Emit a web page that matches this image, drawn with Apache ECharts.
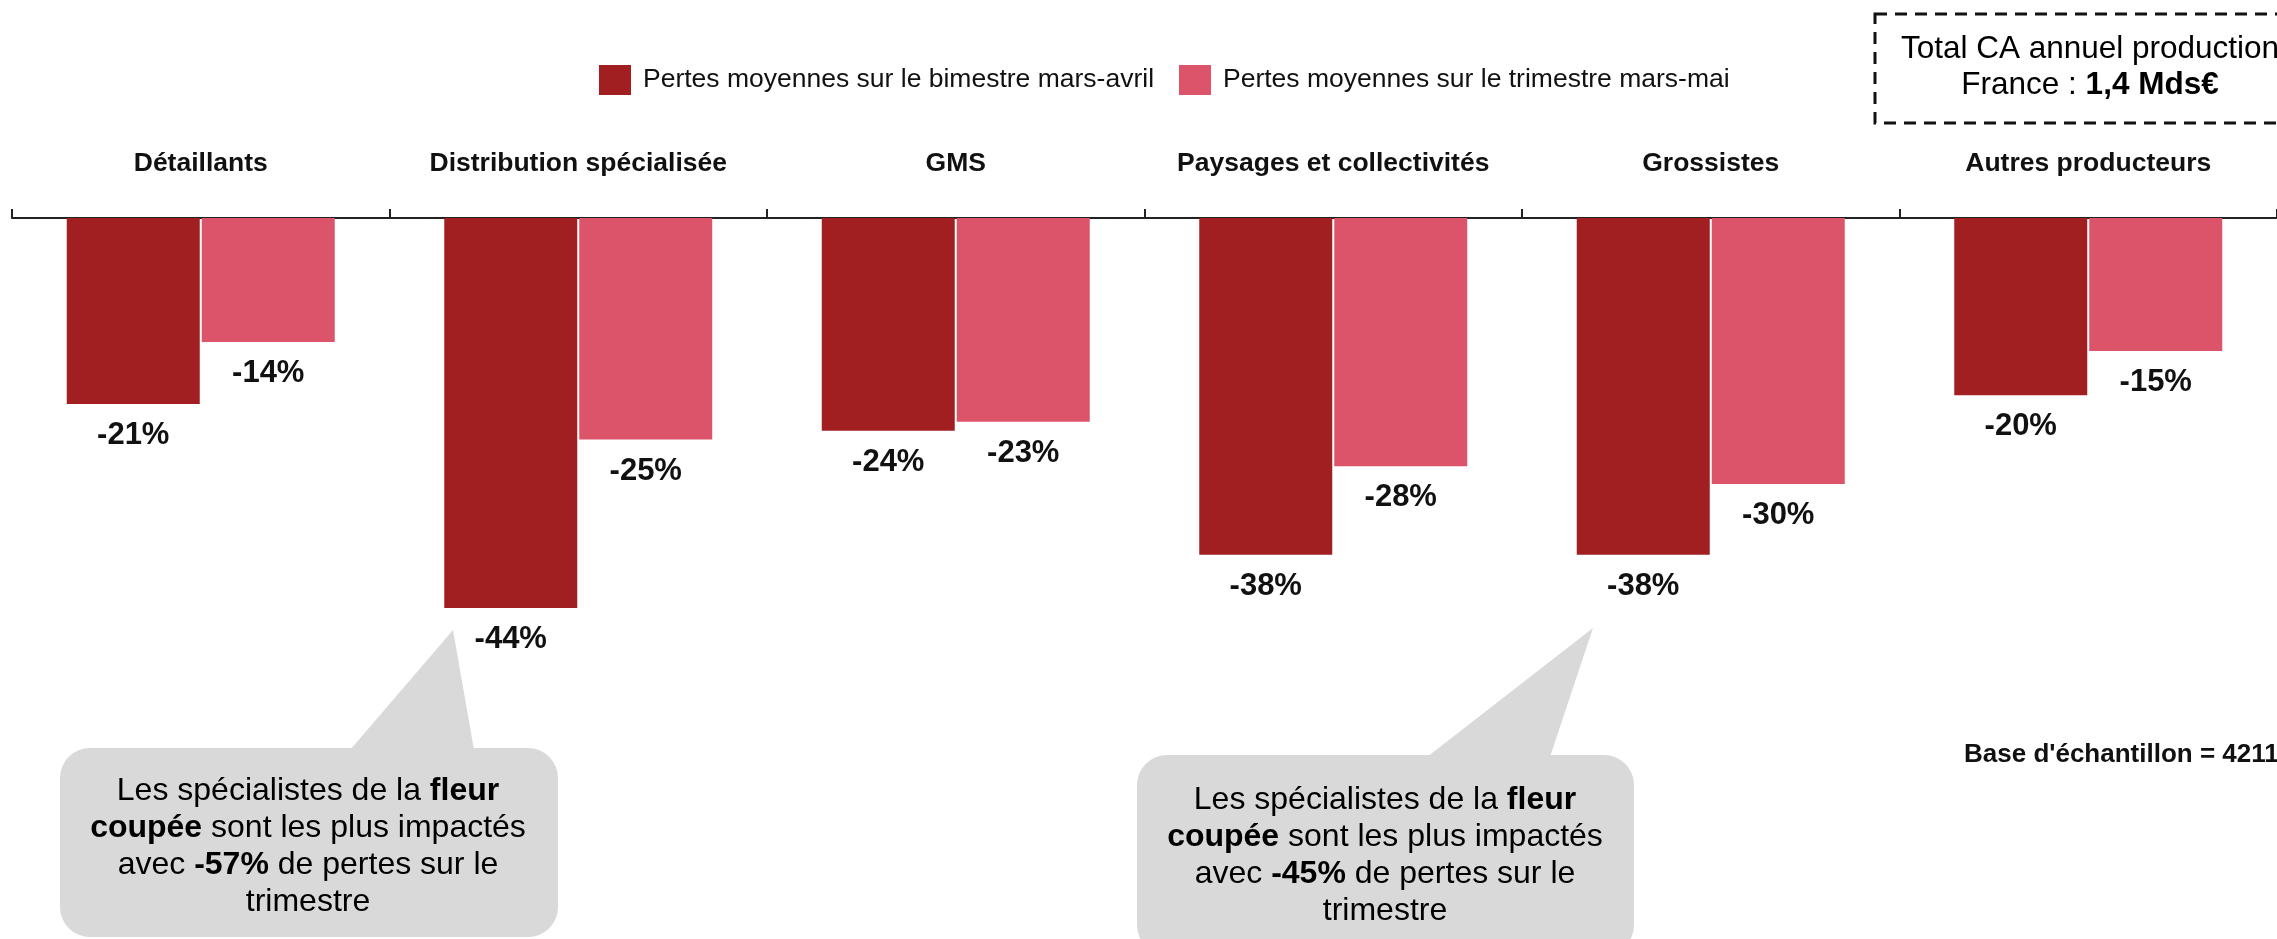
<!DOCTYPE html>
<html>
<head>
<meta charset="utf-8">
<script src="https://cdn.jsdelivr.net/npm/echarts@6/dist/echarts.min.js"></script>
<style>
  html, body { margin: 0; padding: 0; background: #fff; }
  #chart { width: 2277px; height: 939px; }
</style>
</head>
<body>
<div id="chart"></div>
<script>
  // données
  const categories = ['Détaillants', 'Distribution spécialisée', 'GMS', 'Paysages et collectivités', 'Grossistes', 'Autres producteurs'];
  const seriesNames = ['Pertes moyennes sur le bimestre mars-avril', 'Pertes moyennes sur le trimestre mars-mai'];
  const bimestre = [-21, -44, -24, -38, -38, -20];
  const trimestre = [-14, -25, -23, -28, -30, -15];

  const FONT = "'Liberation Sans', Arial, sans-serif";
  const colors = ['#A11F21', '#DC5469'];

  const chart = echarts.init(document.getElementById('chart'));

  // texte enrichi des bulles
  const bubbleRich = {
    n: { fontSize: 32, fontFamily: FONT, color: '#111', lineHeight: 37, align: 'center' },
    b: { fontSize: 32, fontFamily: FONT, color: '#111', fontWeight: 'bold', lineHeight: 37, align: 'center' }
  };
  function bubbleText(pct) {
    return [
      '{n|Les spécialistes de la }{b|fleur}',
      '{b|coupée}{n| sont les plus impactés}',
      '{n|avec }{b|' + pct + '}{n| de pertes sur le}',
      '{n|trimestre}'
    ].join('\n');
  }

  function barLabel() {
    return {
      show: true,
      position: 'bottom',
      distance: 16,
      formatter: '{c}%',
      fontFamily: FONT,
      fontWeight: 'bold',
      fontSize: 31,
      color: '#111'
    };
  }

  const option = {
    animation: false,
    color: colors,
    legend: {
      top: 60,
      left: 594,
      itemWidth: 32,
      itemHeight: 30,
      itemGap: 25,
      icon: 'rect',
      textStyle: { fontFamily: FONT, fontSize: 26.5, color: '#111', padding: [0, 0, 0, 7] },
      data: seriesNames
    },
    grid: { left: 12, right: -4, top: 218, bottom: 12, containLabel: false },
    xAxis: {
      type: 'category',
      position: 'top',
      data: categories,
      axisLine: { lineStyle: { color: '#222', width: 2 } },
      axisTick: { show: true, length: 9, lineStyle: { color: '#222', width: 2 } },
      axisLabel: {
        interval: 0,
        margin: 41,
        fontFamily: FONT,
        fontWeight: 'bold',
        fontSize: 26.5,
        color: '#111'
      }
    },
    yAxis: {
      type: 'value',
      min: -80,
      max: 0,
      show: false,
      splitLine: { show: false }
    },
    series: [
      {
        name: seriesNames[0],
        type: 'bar',
        barWidth: 133,
        barGap: '1.5%',
        data: bimestre,
        label: barLabel()
      },
      {
        name: seriesNames[1],
        type: 'bar',
        barWidth: 133,
        data: trimestre,
        label: barLabel()
      }
    ],
    graphic: [
      // encadré CA total
      {
        type: 'rect',
        shape: { x: 1875, y: 14, width: 426, height: 109 },
        style: { fill: 'none', stroke: '#111', lineWidth: 3, lineDash: [12, 8] }
      },
      {
        type: 'text',
        style: {
          x: 2090, y: 67,
          text: '{n|Total CA annuel production}\n{n|France : }{b|1,4 Mds€}',
          align: 'center', verticalAlign: 'middle',
          rich: {
            n: { fontSize: 31.5, fontFamily: FONT, color: '#111', lineHeight: 36, align: 'center' },
            b: { fontSize: 31.5, fontFamily: FONT, color: '#111', fontWeight: 'bold', lineHeight: 36, align: 'center' }
          }
        }
      },
      // bulle 1
      {
        type: 'polygon',
        shape: { points: [[350, 750], [474, 750], [453, 630]] },
        style: { fill: '#D9D9D9' }
      },
      {
        type: 'rect',
        shape: { x: 60, y: 748, width: 498, height: 189, r: 30 },
        style: { fill: '#D9D9D9' }
      },
      {
        type: 'text',
        style: {
          x: 308, y: 847,
          text: bubbleText('-57%'),
          align: 'center', verticalAlign: 'middle',
          rich: bubbleRich
        }
      },
      // bulle 2
      {
        type: 'polygon',
        shape: { points: [[1427, 757], [1550, 757], [1593, 628]] },
        style: { fill: '#D9D9D9' }
      },
      {
        type: 'rect',
        shape: { x: 1137, y: 755, width: 497, height: 200, r: 30 },
        style: { fill: '#D9D9D9' }
      },
      {
        type: 'text',
        style: {
          x: 1385, y: 856,
          text: bubbleText('-45%'),
          align: 'center', verticalAlign: 'middle',
          rich: bubbleRich
        }
      },
      // base d'échantillon
      {
        type: 'text',
        style: {
          x: 1964, y: 755,
          text: "Base d'échantillon = 4211",
          align: 'left', verticalAlign: 'middle',
          fontFamily: FONT, fontWeight: 'bold', fontSize: 26, fill: '#111'
        }
      }
    ]
  };

  chart.setOption(option);
</script>
</body>
</html>
